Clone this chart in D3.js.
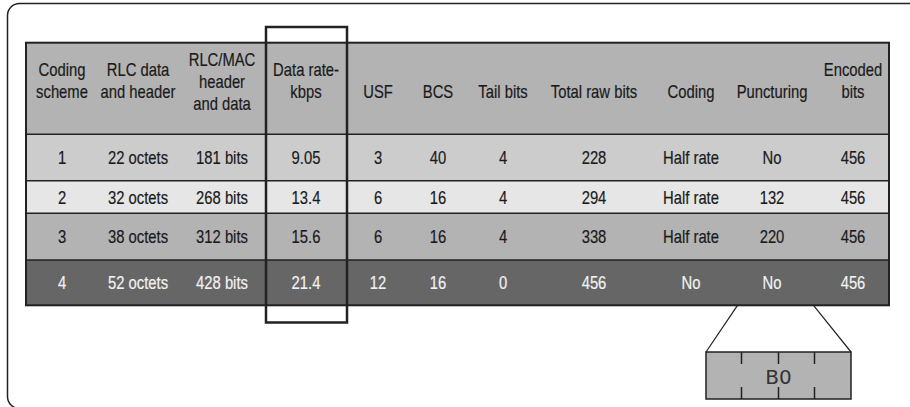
<!DOCTYPE html>
<html>
<head>
<meta charset="utf-8">
<script src="https://cdn.jsdelivr.net/npm/d3@7"></script>
<style>
  body { margin: 0; background: #fff; }
  svg { display: block; }
  .cell { font-family: "Liberation Sans", Arial, sans-serif; font-size: 18.5px; }
  .cell text { stroke-width: 0.2px; }
</style>
</head>
<body>
<svg width="910" height="407"></svg>
<script>
// table contents
var headers = [
  ["Coding", "scheme"], ["RLC data", "and header"], ["RLC/MAC", "header", "and data"],
  ["Data rate-", "kbps"], ["USF"], ["BCS"], ["Tail bits"], ["Total raw bits"],
  ["Coding"], ["Puncturing"], ["Encoded", "bits"]
];
var schemes = ["1", "2", "3", "4"];
var rlcData = ["22 octets", "32 octets", "38 octets", "52 octets"];
var rlcMac = ["181 bits", "268 bits", "312 bits", "428 bits"];
var dataRate = ["9.05", "13.4", "15.6", "21.4"];
var usf = ["3", "6", "6", "12"];
var bcs = ["40", "16", "16", "16"];
var tailBits = ["4", "4", "4", "0"];
var totalRaw = ["228", "294", "338", "456"];
var coding = ["Half rate", "Half rate", "Half rate", "No"];
var puncturing = ["No", "132", "220", "No"];
var encoded = ["456", "456", "456", "456"];
var blockLabel = "B0";

var columns = [schemes, rlcData, rlcMac, dataRate, usf, bcs, tailBits, totalRaw, coding, puncturing, encoded];

// layout
var colCenters = [62, 138, 222, 306, 378, 438, 503, 594, 691, 772, 853];
var rowEdges = [42.7, 134.3, 180.7, 213.3, 260, 305.3];
var rowFills = ["#b3b3b3", "#cccccc", "#e6e6e6", "#b3b3b3", "#666666"];
var narrow = 0.8; // squeeze Arial metrics into a condensed face

var svg = d3.select("svg");

var x = d3.scaleOrdinal()
  .domain(d3.range(headers.length))
  .range(colCenters);

var y = d3.scaleOrdinal()
  .domain(d3.range(rowEdges.length))
  .range(rowEdges);

var tableLeft = 26, tableRight = 889;

function place(px, py) {
  return "translate(" + px + "," + py + ") scale(" + narrow + ",1)";
}

// outer frame, runs off the right and bottom edges
svg.append("rect")
  .attr("x", 7.5).attr("y", 3.5)
  .attr("width", 940).attr("height", 405)
  .attr("rx", 12)
  .attr("fill", "none")
  .attr("stroke", "#222")
  .attr("stroke-width", 1.5);

// row bands
svg.selectAll("rect.band")
  .data(rowFills)
  .enter().append("rect")
    .attr("class", "band")
    .attr("x", tableLeft)
    .attr("y", function(d, i) { return y(i); })
    .attr("width", tableRight - tableLeft)
    .attr("height", function(d, i) { return y(i + 1) - y(i); })
    .attr("fill", function(d) { return d; });

// row separators
svg.selectAll("line.sep")
  .data(d3.range(1, rowEdges.length - 1))
  .enter().append("line")
    .attr("x1", tableLeft).attr("x2", tableRight)
    .attr("y1", function(i) { return y(i); })
    .attr("y2", function(i) { return y(i); })
    .attr("stroke", "#222")
    .attr("stroke-width", 1.5);

svg.append("rect")
  .attr("x", tableLeft).attr("y", y(0))
  .attr("width", tableRight - tableLeft)
  .attr("height", y(rowEdges.length - 1) - y(0))
  .attr("fill", "none")
  .attr("stroke", "#222")
  .attr("stroke-width", 2);

// header text
var head = svg.append("g").attr("class", "cell");
headers.forEach(function(lines, c) {
  var n = lines.length;
  var y0 = n === 3 ? 66 : 98 - 22 * (n - 1);
  lines.forEach(function(s, k) {
    head.append("text")
      .attr("text-anchor", "middle")
      .attr("fill", "#1a1a1a")
      .attr("stroke", "#1a1a1a")
      .attr("transform", place(x(c), y0 + k * 22))
      .text(s);
  });
});

// body text
var body = svg.append("g").attr("class", "cell");
columns.forEach(function(col, c) {
  body.selectAll(null)
    .data(col)
    .enter().append("text")
      .attr("text-anchor", "middle")
      .attr("transform", function(d, r) { return place(x(c), (y(r + 1) + y(r + 2)) / 2 + 6.5); })
      .attr("fill", function(d, r) { return r === 3 ? "#f2f2f2" : "#1a1a1a"; })
      .attr("stroke", function(d, r) { return r === 3 ? "#f2f2f2" : "#1a1a1a"; })
      .text(function(d) { return d; });
});

// highlight around the data rate column
svg.append("rect")
  .attr("x", 266).attr("y", 27)
  .attr("width", 81).attr("height", 295.5)
  .attr("fill", "none")
  .attr("stroke", "#222")
  .attr("stroke-width", 2.5);

// zoom-out to the block below the table
var bx0 = 706, bx1 = 851, by0 = 352, by1 = 399;
var tableBottom = y(rowEdges.length - 1);
svg.append("path")
  .attr("d", "M737.5," + tableBottom + "L" + bx0 + "," + by0 + "M813.5," + tableBottom + "L" + bx1 + "," + by0)
  .attr("fill", "none")
  .attr("stroke", "#222")
  .attr("stroke-width", 1.2);

svg.append("rect")
  .attr("x", bx0).attr("y", by0)
  .attr("width", bx1 - bx0).attr("height", by1 - by0)
  .attr("fill", "#b3b3b3")
  .attr("stroke", "#222")
  .attr("stroke-width", 1.5);

var ticks = d3.scaleLinear().domain([0, 4]).range([bx0, bx1]);
[1, 2, 3].forEach(function(i) {
  var tx = Math.round(ticks(i)) - 0.5;
  svg.append("line").attr("x1", tx).attr("x2", tx).attr("y1", by0).attr("y2", by0 + 12)
    .attr("stroke", "#222").attr("stroke-width", 1.5);
  svg.append("line").attr("x1", tx).attr("x2", tx).attr("y1", by1 - 12).attr("y2", by1)
    .attr("stroke", "#222").attr("stroke-width", 1.5);
});

svg.append("text")
  .attr("x", ticks(2)).attr("y", 384)
  .attr("text-anchor", "middle")
  .attr("font-family", "'DejaVu Sans', sans-serif")
  .attr("font-size", 20)
  .attr("fill", "#333")
  .text(blockLabel);
</script>
</body>
</html>
